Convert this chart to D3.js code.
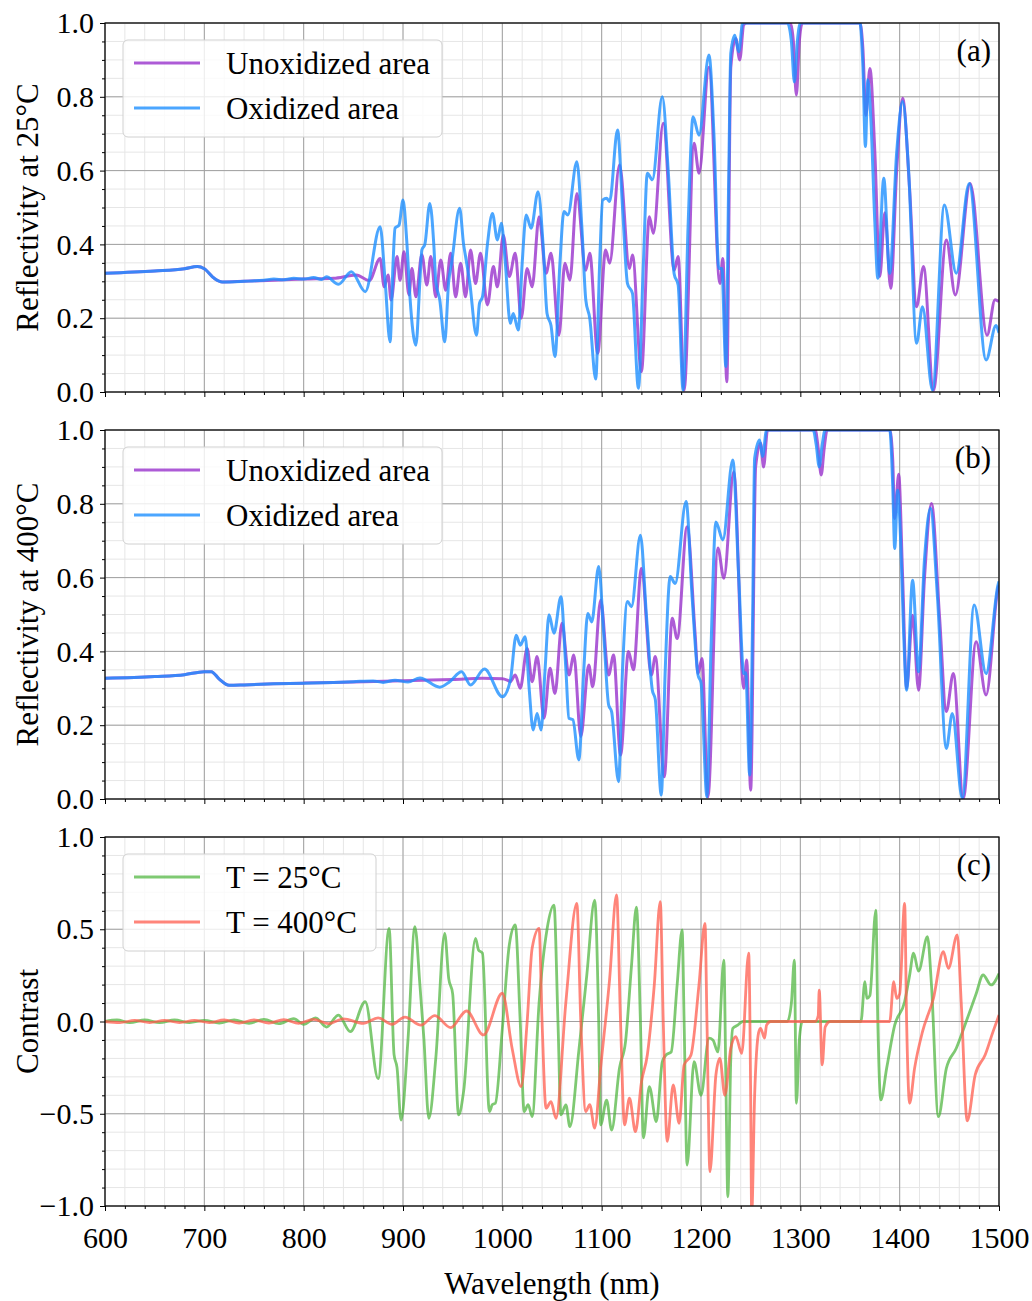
<!DOCTYPE html>
<html><head><meta charset="utf-8">
<script src="https://cdn.jsdelivr.net/npm/d3@7"></script>
<style>
body{margin:0;background:#fff}
svg text{font-family:"Liberation Serif","DejaVu Serif",serif;fill:#000}
</style>
</head><body>
<svg id="chart" width="1032" height="1301"></svg>
<script>
// ---------- data ----------
const wlTicks = [600,700,800,900,1000,1100,1200,1300,1400,1500];
const reflTicks = [0,0.2,0.4,0.6,0.8,1.0];
const contrastTicks = [-1,-0.5,0,0.5,1];
const legendRefl = ["Unoxidized area","Oxidized area"];
const legendContrast = ["T = 25°C","T = 400°C"];
const panelTags = ["(a)","(b)","(c)"];
const yTitles = ["Reflectivity at 25°C","Reflectivity at 400°C","Contrast"];

// Panel (a): reflectivity at 25°C
const unox25 = [[600,.322],[650,.328],[680,.334],[693,.340],[700,.334],[710,.308],[718,.298],[740,.300],[770,.303],[800,.306],[830,.308],[853,.317],[866,.302],[877,.362],[881,.285],[885,.317],[888,.249],[894,.367],[897,.303],[901,.380],[906,.263],[909,.335],[913,.258],[919,.372],[924,.290],[928,.367],[933,.258],[938,.358],[943,.276],[948,.376],[953,.258],[958,.349],[963,.258],[968,.385],[973,.294],[978,.376],[985,.236],[991,.340],[995,.285],[1001,.425],[1007,.313],[1013,.376],[1019,.200],[1025,.335],[1030,.285],[1037,.475],[1044,.322],[1049,.376],[1057,.154],[1063,.349],[1068,.303],[1075,.538],[1084,.330],[1088,.376],[1096,.105],[1104,.385],[1108,.349],[1118,.615],[1128,.335],[1131,.371],[1140,.055],[1148,.475],[1152,.430],[1162,.728],[1173,.330],[1177,.367],[1183,.005],[1193,.674],[1198,.593],[1208,.880],[1219,.294],[1222,.362],[1226,.028],[1230,.880],[1235,.958],[1239,.900],[1243,.995],[1246,1],[1290,1],[1293,.95],[1296,.805],[1299,.95],[1302,1],[1360,1],[1363,.93],[1366,.75],[1370,.877],[1375,.65],[1380,.313],[1385,.486],[1391,.281],[1397,.6],[1403,.796],[1410,.55],[1417,.231],[1424,.340],[1434,.005],[1447,.412],[1456,.263],[1471,.565],[1488,.154],[1496,.25],[1500,.245]];
const ox25 = [[600,.322],[650,.328],[680,.334],[693,.340],[700,.334],[710,.308],[718,.298],[740,.300],[760,.303],[770,.306],[780,.304],[790,.308],[800,.306],[810,.310],[818,.305],[823,.312],[835,.292],[848,.326],[862,.272],[877,.448],[882,.30],[887,.136],[890,.35],[892,.444],[896,.452],[900,.520],[904,.40],[907,.258],[913,.127],[917,.30],[919,.385],[922,.40],[927,.511],[931,.40],[933,.30],[937,.25],[942,.136],[946,.30],[949,.35],[957,.498],[961,.40],[963,.367],[967,.30],[974,.154],[977,.24],[980,.258],[985,.40],[990,.484],[995,.412],[999,.457],[1003,.35],[1008,.186],[1011,.213],[1016,.168],[1020,.35],[1024,.480],[1029,.444],[1036,.543],[1041,.40],[1045,.213],[1049,.18],[1053,.096],[1058,.35],[1062,.489],[1066,.480],[1075,.624],[1080,.45],[1084,.250],[1088,.20],[1094,.035],[1098,.35],[1101,.520],[1105,.525],[1108,.516],[1116,.710],[1121,.50],[1126,.294],[1131,.267],[1137,.010],[1142,.35],[1146,.593],[1151,.575],[1161,.800],[1167,.60],[1173,.320],[1177,.29],[1182,.005],[1187,.45],[1192,.746],[1198,.696],[1208,.913],[1213,.70],[1218,.335],[1221,.335],[1225,.069],[1228,.6],[1230,.918],[1234,.967],[1238,.922],[1242,1],[1287,1],[1291,.95],[1294,.840],[1297,.95],[1300,1],[1360,1],[1363,.88],[1365.5,.665],[1368,.846],[1371,.74],[1375,.46],[1378,.308],[1384,.579],[1390,.321],[1397,.65],[1403,.787],[1409,.60],[1417,.132],[1423,.231],[1433,.005],[1445,.507],[1457,.322],[1470,.565],[1487,.087],[1497,.18],[1500,.16]];

// Panel (b): reflectivity at 400°C
const unox400 = [[600,.327],[650,.332],[680,.337],[700,.345],[707,.345],[715,.325],[725,.308],[740,.309],[770,.312],[800,.314],[830,.316],[860,.318],[890,.320],[920,.322],[950,.324],[980,.327],[1000,.326],[1005,.322],[1008,.318],[1013,.336],[1018,.300],[1025,.408],[1030,.318],[1035,.386],[1042,.219],[1048,.354],[1053,.286],[1060,.476],[1067,.336],[1072,.390],[1079,.169],[1087,.363],[1091,.304],[1099,.539],[1107,.336],[1112,.390],[1119,.119],[1127,.400],[1132,.350],[1140,.625],[1150,.336],[1154,.386],[1163,.060],[1171,.490],[1176,.435],[1186,.738],[1194,.45],[1197,.340],[1201,.381],[1207,.006],[1217,.680],[1223,.598],[1233,.887],[1243,.300],[1246,.377],[1250,.024],[1255,.9],[1260,.964],[1263,.900],[1267,1],[1315,1],[1318,.95],[1321,.878],[1324,.95],[1327,1],[1390,1],[1393,.92],[1395,.76],[1399,.880],[1403,.6],[1407,.30],[1413,.498],[1419,.295],[1425,.6],[1432,.801],[1440,.5],[1447,.237],[1454,.340],[1464,.002],[1477,.426],[1487,.282],[1499,.571],[1500,.58]];
const ox400 = [[600,.327],[650,.332],[680,.337],[700,.345],[707,.345],[715,.325],[725,.308],[740,.309],[770,.312],[800,.314],[830,.316],[850,.318],[870,.320],[880,.316],[892,.322],[905,.317],[917,.328],[937,.303],[947,.318],[959,.345],[968,.309],[982,.352],[1000,.277],[1008,.32],[1014,.444],[1018,.417],[1023,.440],[1027,.30],[1031,.187],[1035,.232],[1039,.187],[1043,.35],[1047,.499],[1052,.449],[1059,.548],[1064,.35],[1067,.219],[1071,.215],[1077,.106],[1082,.35],[1086,.503],[1090,.480],[1097,.630],[1102,.45],[1107,.255],[1110,.237],[1117,.047],[1121,.35],[1126,.535],[1130,.521],[1139,.715],[1145,.5],[1151,.295],[1154,.27],[1160,.011],[1164,.35],[1169,.603],[1174,.584],[1185,.806],[1191,.55],[1197,.336],[1200,.315],[1206,.006],[1210,.4],[1215,.751],[1222,.702],[1232,.919],[1238,.6],[1243,.340],[1245,.342],[1249,.065],[1252,.5],[1254,.923],[1259,.973],[1262,.928],[1266,1],[1313,1],[1316,.96],[1319,.900],[1322,.96],[1325,1],[1390,1],[1393,.85],[1395,.679],[1398,.837],[1401,.7],[1404,.45],[1407,.295],[1413,.593],[1419,.345],[1425,.65],[1431,.788],[1438,.55],[1447,.137],[1453,.232],[1463,.002],[1475,.526],[1487,.340],[1499,.58],[1500,.59]];

// Panel (c): contrast
const contrast25 = [[600,0],[612,.008],[625,-.006],[640,.008],[655,-.006],[670,.008],[685,-.006],[700,.006],[715,-.008],[730,.008],[745,-.01],[760,.012],[775,-.012],[790,.015],[800,-.015],[812,.02],[823,-.03],[835,.035],[847,-.055],[862,.107],[875,-.310],[886,.505],[891,-.18],[894,-.25],[898,-.534],[905,-.1],[912,.514],[917,.2],[921,-.09],[926,-.525],[933,-.2],[942,.478],[946,.234],[950,.15],[956,-.506],[961,-.38],[973,.45],[976,.388],[980,.37],[987,-.488],[990,-.45],[993,-.443],[1000,-.04],[1007,.415],[1013,.523],[1018,0],[1022,-.488],[1026,-.45],[1030,-.515],[1037,.1],[1045,.5],[1052,.631],[1056,0],[1059,-.506],[1064,-.452],[1068,-.57],[1077,-.16],[1085,.25],[1093,.658],[1097,0],[1099,-.56],[1105,-.426],[1110,-.588],[1118,-.25],[1124,-.11],[1130,.3],[1135,.62],[1139,0],[1142,-.63],[1148,-.353],[1155,-.543],[1161,-.22],[1165,-.18],[1170,-.165],[1176,.2],[1181,.496],[1183,0],[1186,-.778],[1193,-.218],[1200,-.4],[1208,-.09],[1212,-.1],[1217,-.165],[1223,.333],[1225,-.3],[1227,-.95],[1230,-.2],[1232,-.037],[1237,-.02],[1242,0],[1287,0],[1291,.1],[1294,.333],[1296,-.443],[1299,-.1],[1302,0],[1361,0],[1365,.216],[1367,.125],[1370,.14],[1376,.604],[1378,0],[1381,-.425],[1387,-.25],[1395,-.02],[1405,.107],[1410,.25],[1414,.370],[1419,.273],[1428,.46],[1432,.2],[1439,-.516],[1447,-.254],[1457,-.145],[1467,0],[1477,.15],[1484,.252],[1492,.198],[1500,.26]];
const contrast400 = [[600,0],[615,-.006],[630,.006],[645,-.006],[660,.006],[675,-.006],[690,.006],[705,-.006],[720,.008],[735,-.008],[750,.008],[765,-.008],[780,.01],[795,-.01],[810,.012],[825,-.012],[840,.014],[860,-.01],[875,.02],[889,-.015],[902,.024],[918,-.02],[932,.032],[948,-.033],[964,.057],[981,-.073],[1000,.153],[1010,-.15],[1019,-.353],[1025,0],[1030,.397],[1037,.505],[1040,0],[1044,-.47],[1049,-.435],[1054,-.525],[1064,.107],[1075,.64],[1079,0],[1084,-.488],[1088,-.45],[1093,-.578],[1099,-.25],[1108,.23],[1115,.686],[1119,0],[1123,-.56],[1128,-.416],[1134,-.597],[1140,-.33],[1146,-.18],[1153,.2],[1159,.65],[1162,0],[1166,-.65],[1172,-.344],[1178,-.552],[1183,-.236],[1190,-.18],[1198,.2],[1204,.532],[1206,0],[1209,-.814],[1215,-.29],[1219,-.2],[1224,-.4],[1230,-.145],[1235,-.082],[1241,-.173],[1248,.370],[1250,-.4],[1251,-1.05],[1254,-.4],[1258,-.06],[1260,-.037],[1264,-.09],[1266,-.02],[1270,0],[1315,0],[1318,.03],[1319,.17],[1322,-.235],[1325,-.03],[1330,0],[1390,0],[1394,.216],[1397,.125],[1400,.15],[1405,.64],[1407,0],[1410,-.443],[1415,-.254],[1423,-.055],[1434,.125],[1444,.378],[1449,.288],[1458,.469],[1462,.1],[1468,-.539],[1476,-.29],[1486,-.182],[1494,-.055],[1500,.035]];

// ---------- drawing ----------
const svg = d3.select("#chart");
const X0 = 105, X1 = 999;
const x = d3.scaleLinear().domain([600,1500]).range([X0,X1]);
const xMinor = d3.range(600,1501,20);
const FS = 31;      // label text size
const TFS = 30;     // tick label size

const panels = [
  {top:23, bottom:392, domain:[0,1], ticks:reflTicks, minor:d3.range(0,1.0001,0.05),
   series:[{d:unox25,c:"#9932cc",o:0.8},{d:ox25,c:"#1e90ff",o:0.8}], legend:legendRefl, legW:319, lw:3},
  {top:430, bottom:799, domain:[0,1], ticks:reflTicks, minor:d3.range(0,1.0001,0.05),
   series:[{d:unox400,c:"#9932cc",o:0.8},{d:ox400,c:"#1e90ff",o:0.8}], legend:legendRefl, legW:319, lw:3},
  {top:837, bottom:1206, domain:[-1,1], ticks:contrastTicks, minor:d3.range(-1,1.0001,0.1),
   series:[{d:contrast25,c:"#4cb43c",o:0.72},{d:contrast400,c:"#ff5c4d",o:0.75}], legend:legendContrast, legW:253, lw:2.8}
];

const fmt = d3.format(".1f");

panels.forEach((p,i)=>{
  const y = d3.scaleLinear().domain(p.domain).range([p.bottom,p.top]);
  const g = svg.append("g");
  const cid = "clip"+i;
  svg.append("clipPath").attr("id",cid).append("rect")
    .attr("x",X0).attr("y",p.top).attr("width",X1-X0).attr("height",p.bottom-p.top);

  // minor grid
  g.append("g").selectAll("line").data(xMinor).join("line")
    .attr("x1",d=>x(d)).attr("x2",d=>x(d)).attr("y1",p.top).attr("y2",p.bottom)
    .attr("stroke","#e6e6e6").attr("stroke-width",1);
  g.append("g").selectAll("line").data(p.minor).join("line")
    .attr("x1",X0).attr("x2",X1).attr("y1",d=>y(d)).attr("y2",d=>y(d))
    .attr("stroke","#e6e6e6").attr("stroke-width",1);
  // major grid
  g.append("g").selectAll("line").data(wlTicks).join("line")
    .attr("x1",d=>x(d)).attr("x2",d=>x(d)).attr("y1",p.top).attr("y2",p.bottom)
    .attr("stroke","#a0a0a0").attr("stroke-width",1);
  g.append("g").selectAll("line").data(p.ticks).join("line")
    .attr("x1",X0).attr("x2",X1).attr("y1",d=>y(d)).attr("y2",d=>y(d))
    .attr("stroke","#a0a0a0").attr("stroke-width",1);

  // curves
  const line = d3.line().x(d=>x(d[0])).y(d=>y(d[1])).curve(d3.curveMonotoneX);
  const cg = g.append("g").attr("clip-path",`url(#${cid})`);
  p.series.forEach(s=>{
    cg.append("path").attr("d",line(s.d)).attr("fill","none")
      .attr("stroke",s.c).attr("stroke-opacity",s.o).attr("stroke-width",p.lw)
      .attr("stroke-linejoin","round");
  });

  // axes
  const yAxis = d3.axisLeft(y).tickValues(p.ticks).tickFormat(fmt).tickSize(5).tickPadding(6);
  const ya = g.append("g").attr("transform",`translate(${X0},0)`).call(yAxis);
  ya.select(".domain").remove();
  ya.selectAll("text").attr("font-size",TFS).attr("font-family",'"Liberation Serif",serif');
  ya.selectAll("line").attr("stroke","#000");
  const yMinorAxis = d3.axisLeft(y).tickValues(p.minor.filter(v=>!p.ticks.some(t=>Math.abs(t-v)<1e-6))).tickFormat("").tickSize(3);
  const ym = g.append("g").attr("transform",`translate(${X0},0)`).call(yMinorAxis);
  ym.select(".domain").remove();

  const xAxis = d3.axisBottom(x).tickValues(wlTicks).tickSize(5).tickPadding(16)
    .tickFormat(i===2 ? d3.format("d") : "");
  const xa = g.append("g").attr("transform",`translate(0,${p.bottom})`).call(xAxis);
  xa.select(".domain").remove();
  xa.selectAll("text").attr("font-size",TFS).attr("font-family",'"Liberation Serif",serif');
  const xm = g.append("g").attr("transform",`translate(0,${p.bottom})`)
    .call(d3.axisBottom(x).tickValues(xMinor.filter(v=>v%100!==0)).tickFormat("").tickSize(3));
  xm.select(".domain").remove();

  // frame
  g.append("rect").attr("x",X0).attr("y",p.top).attr("width",X1-X0).attr("height",p.bottom-p.top)
    .attr("fill","none").attr("stroke","#000").attr("stroke-width",1.2);

  // y title
  g.append("text").attr("transform",`translate(27,${(p.top+p.bottom)/2}) rotate(-90)`)
    .attr("text-anchor","middle").attr("dominant-baseline","central")
    .attr("font-size",FS).text(yTitles[i]);

  // panel tag
  g.append("text").attr("x",991).attr("y",p.top+27).attr("text-anchor","end")
    .attr("dominant-baseline","central").attr("font-size",FS).text(panelTags[i]);

  // legend
  const lg = g.append("g").attr("transform",`translate(123,${p.top+17})`);
  lg.append("rect").attr("width",p.legW).attr("height",97).attr("rx",5)
    .attr("fill","#fff").attr("fill-opacity",0.8).attr("stroke","#d0d0d0");
  p.legend.forEach((t,k)=>{
    const yy = 23 + k*45;
    lg.append("line").attr("x1",11).attr("x2",77).attr("y1",yy).attr("y2",yy)
      .attr("stroke",p.series[k].c).attr("stroke-opacity",p.series[k].o).attr("stroke-width",p.lw);
    lg.append("text").attr("x",103).attr("y",yy).attr("dominant-baseline","central")
      .attr("font-size",FS).text(t);
  });
});

// x title
svg.append("text").attr("x",(X0+X1)/2).attr("y",1283).attr("text-anchor","middle")
  .attr("dominant-baseline","central").attr("font-size",FS).text("Wavelength (nm)");
</script>
</body></html>
